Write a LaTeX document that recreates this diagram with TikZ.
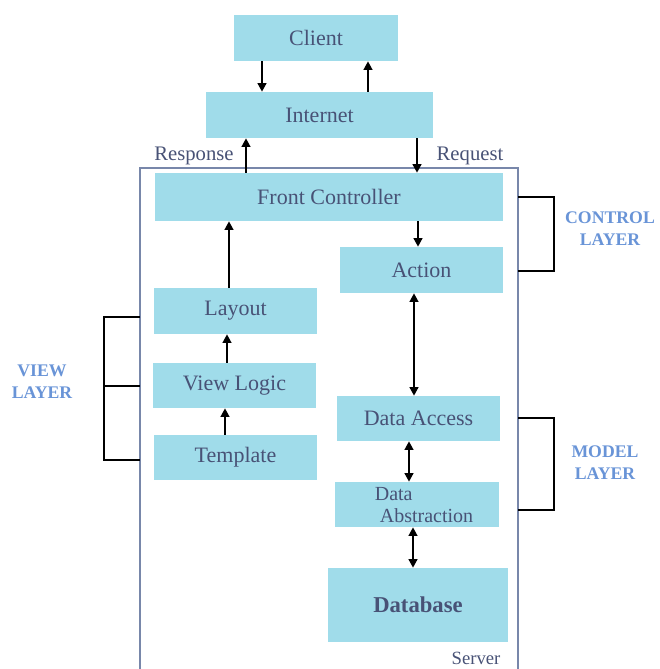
\documentclass[tikz,border=0pt]{standalone}
\usepackage{fontspec}
\setmainfont{Liberation Serif}
\usetikzlibrary{arrows.meta}
\definecolor{boxfill}{RGB}{160,220,234}
\definecolor{boxtext}{RGB}{72,82,118}
\definecolor{laytext}{RGB}{105,148,215}
\definecolor{framecol}{RGB}{120,135,170}
\tikzset{
  sz/.style 2 args={minimum width=#1*0.75pt, minimum height=#2*0.75pt},
  blk/.style={fill=boxfill, text=boxtext, inner sep=0pt, font=\fontsize{16.5}{18}\selectfont},
  tip/.tip={Triangle[length=6.5pt,width=6.5pt]},
  lnk/.style={line width=2pt, -tip},
  lnk2/.style={line width=2pt, tip-tip},
  brk/.style={line width=1pt},
  frm/.style={line width=1.1pt, draw=framecol},
  lay/.style={text=laytext, align=center, font=\fontsize{13.3}{16.5}\selectfont\bfseries},
  tag/.style={text=boxtext, font=\fontsize{15.5}{18}\selectfont}
}
\begin{document}
\begin{tikzpicture}[x=0.75pt,y=-0.75pt]
\useasboundingbox (0,0) rectangle (660,669);
% server frame and layer brackets
\draw[frm] (140,669) -- (140,168) -- (518,168) -- (518,669);
\draw[brk] (140,317) -- (104,317) -- (104,460) -- (140,460);
\draw[brk] (104,386) -- (140,386);
\draw[brk] (518,197) -- (554,197) -- (554,271) -- (518,271);
\draw[brk] (518,418) -- (554,418) -- (554,510) -- (518,510);
% boxes
\node[blk, sz={164}{46}] (client) at (316,38) {Client};
\node[blk, sz={227}{46}] (internet) at (319.5,115) {Internet};
\node[blk, sz={348}{48}] (front) at (329,197) {Front Controller};
\node[blk, sz={163}{46}] (action) at (421.5,270) {Action};
\node[blk, sz={163}{45}] (access) at (418.5,418.5) {Data Access};
\node[blk, sz={164}{45}] (abstr) at (417,504.5) {};
\node[text=boxtext, align=left, font=\fontsize{15}{16.5}\selectfont] (abstrtxt) at (424,505) {Data\\\ Abstraction};
\node[blk, sz={180}{74}, font=\fontsize{17}{20}\selectfont\bfseries] (db) at (418,605) {Database};
\node[blk, sz={163}{46}] (layout) at (235.5,311) {Layout};
\node[blk, sz={163}{45}] (logic) at (234.5,385.5) {View Logic};
\node[blk, sz={163}{45}] (template) at (235.5,457.5) {Template};
% labels
\node[tag] (resp) at (194,156) {Response};
\node[tag] (req) at (470,156) {Request};
\node[tag, font=\fontsize{14}{16}\selectfont] (server) at (476,658) {Server};
\node[lay] (viewlbl) at (42,382) {VIEW\\LAYER};
\node[lay] (ctrllbl) at (610,229) {CONTROL\\LAYER};
\node[lay] (modellbl) at (605,463) {MODEL\\LAYER};
% arrows
\draw[lnk] (client.south -| 262,0) -- (internet.north -| 262,0);
\draw[lnk] (internet.north -| 368,0) -- (client.south -| 368,0);
\draw[lnk] (front.north -| 246,0) -- (internet.south -| 246,0);
\draw[lnk] (internet.south -| 417,0) -- (front.north -| 417,0);
\draw[lnk] (front.south -| 418,0) -- (action.north -| 418,0);
\draw[lnk2] (action.south -| 414,0) -- (access.north -| 414,0);
\draw[lnk2] (access.south -| 409,0) -- (abstr.north -| 409,0);
\draw[lnk2] (abstr.south -| 413,0) -- (db.north -| 413,0);
\draw[lnk] (template.north -| 225,0) -- (logic.south -| 225,0);
\draw[lnk] (logic.north -| 227,0) -- (layout.south -| 227,0);
\draw[lnk] (layout.north -| 229,0) -- (front.south -| 229,0);
\end{tikzpicture}
\end{document}
